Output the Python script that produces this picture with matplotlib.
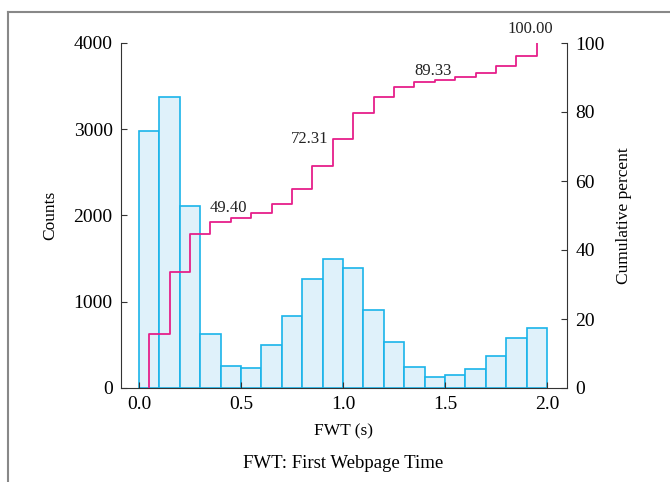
import numpy as np
import matplotlib
matplotlib.use("Agg")
import matplotlib.pyplot as plt
from matplotlib.lines import Line2D

plt.rcParams['font.family'] = ['Liberation Serif', 'DejaVu Serif']

# histogram of first webpage time, bins of 0.1 s
bin_edges = [0.0, 0.1, 0.2, 0.3, 0.4, 0.5, 0.6, 0.7, 0.8, 0.9, 1.0,
             1.1, 1.2, 1.3, 1.4, 1.5, 1.6, 1.7, 1.8, 1.9, 2.0]
counts = [2980, 3370, 2110, 631, 260, 236, 503, 839, 1264, 1492,
          1396, 901, 538, 248, 132, 155, 225, 368, 576, 700]

# labelled points on the cumulative curve (bin index, text)
label_bins = [4, 9, 14, 19]
label_texts = ["49.40", "72.31", "89.33", "100.00"]

x_ticks = [0.0, 0.5, 1.0, 1.5, 2.0]
y_ticks = [0, 1000, 2000, 3000, 4000]
pct_ticks = [0, 20, 40, 60, 80, 100]

edges = np.array(bin_edges)
cnt = np.array(counts)
width = edges[1] - edges[0]
centers = edges[:-1] + width / 2
cum = np.cumsum(cnt) / cnt.sum() * 100

fig = plt.figure(figsize=(6.7, 4.82), dpi=100)
ax = fig.add_axes([121/670, 1-388/482, (567-121)/670, (388-43)/482])

ax.bar(edges[:-1], cnt, width=width, align='edge', color='#dff1fa',
       edgecolor='#1ab4ea', linewidth=1.2)
ax.set_xlim(-0.088, 2.098)
ax.set_ylim(0, 4000)
ax.set_xticks(x_ticks)
ax.set_xticklabels([f"{v:.1f}" for v in x_ticks])
ax.set_yticks(y_ticks)
ax.tick_params(direction='in', length=4, labelsize=14, pad=6, color='#333333')
ax.tick_params(axis='x', pad=6)
for s in ['top', 'right']:
    ax.spines[s].set_visible(False)
for s in ['left', 'bottom']:
    ax.spines[s].set_color('#333333')
ax.set_ylabel("Counts", fontsize=12.5, labelpad=11)
ax.set_xlabel("FWT (s)", fontsize=12.5, labelpad=7)

ax2 = ax.twinx()
xs = np.concatenate([[centers[0]], centers])
ys = np.concatenate([[0], cum])
ax2.plot(xs, ys, drawstyle='steps-post', color='#e61f8a', lw=1.3)
ax2.set_ylim(0, 100)
ax2.set_yticks(pct_ticks)
ax2.tick_params(direction='in', length=4, labelsize=14, pad=6, color='#333333')
for s in ['top', 'left', 'bottom']:
    ax2.spines[s].set_visible(False)
ax2.spines['right'].set_color('#333333')
ax2.set_ylabel("Cumulative percent", fontsize=12.5, labelpad=8)

# value labels on the cumulative curve
offsets = [(-0.01, 0.5, 'center', 'bottom'),
           (-0.02, 0.0, 'right', 'center'),
           (-0.01, 0.3, 'center', 'bottom'),
           (-0.03, 1.8, 'center', 'bottom')]
for b, t, (dx, dy, ha, va) in zip(label_bins, label_texts, offsets):
    ax2.text(centers[b] + dx, cum[b] + dy, t, ha=ha, va=va, fontsize=12,
             color='#222222')

fig.text(343/670, 1-463/482, "FWT: First Webpage Time", ha='center',
         va='center', fontsize=13.5)

# thin frame lines at the top and left of the figure
fig.add_artist(Line2D([8/670, 8/670], [0, 1-12/482], transform=fig.transFigure,
                      color='#888888', lw=1.5))
fig.add_artist(Line2D([8/670, 1], [1-12/482, 1-12/482], transform=fig.transFigure,
                      color='#888888', lw=1.5))

fig.savefig("out.png", dpi=100)
